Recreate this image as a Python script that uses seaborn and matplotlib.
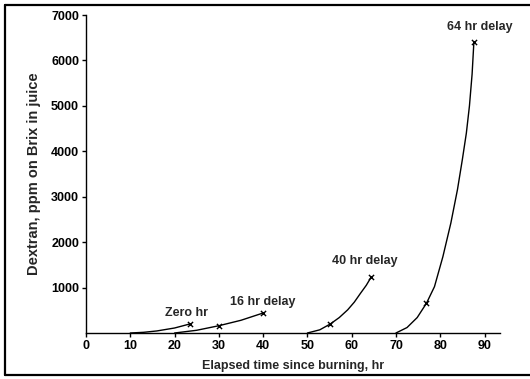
import matplotlib
matplotlib.use("Agg")
import matplotlib.pyplot as plt
import seaborn as sns
import pandas as pd
from matplotlib.lines import Line2D

# Curves
zero_x = [10, 13, 16, 20, 23.5]
zero_y = [0, 15, 45, 110, 200]
d16_x = [20, 25, 30, 35, 40]
d16_y = [0, 60, 160, 280, 440]
d40_x = [50, 52.8, 55.2, 57.2, 59.1, 60.6, 62, 63.3, 64.4]
d40_y = [0, 70, 200, 340, 510, 680, 875, 1050, 1230]
d64_x = [70, 72.5, 74.8, 76.9, 78.7, 80.6, 82.4, 83.9, 85.0, 85.9, 86.6, 87.2, 87.6]
d64_y = [0, 120, 340, 656, 1020, 1680, 2420, 3160, 3820, 4400, 5000, 5700, 6400]

# Measured points (x markers)
mark_x = [23.5, 30, 40, 55.2, 64.4, 76.9, 87.6]
mark_y = [200, 160, 440, 200, 1230, 656, 6400]

labels = ["Zero hr", "16 hr delay", "40 hr delay", "64 hr delay"]
label_x = [22.8, 40, 63, 88.9]
label_y = [450, 690, 1575, 6725]

x_ticks = [0, 10, 20, 30, 40, 50, 60, 70, 80, 90]
y_ticks = [1000, 2000, 3000, 4000, 5000, 6000, 7000]

sns.set_theme(style="ticks")
plt.rcParams['font.family'] = ['Liberation Sans', 'DejaVu Sans']
plt.rcParams['font.weight'] = 'bold'

frames = []
for name, xs, ys in [(labels[0], zero_x, zero_y), (labels[1], d16_x, d16_y),
                     (labels[2], d40_x, d40_y), (labels[3], d64_x, d64_y)]:
    frames.append(pd.DataFrame({"x": xs, "y": ys, "curve": name}))
df = pd.concat(frames, ignore_index=True)

fig = plt.figure(figsize=(5.30, 3.79), dpi=100)
ax = fig.add_axes([86/530, 1 - 333/379, (500 - 86)/530, (333 - 15)/379])

sns.lineplot(data=df, x="x", y="y", units="curve", estimator=None, sort=False,
             color="black", linewidth=1.0, ax=ax)
sns.scatterplot(x=mark_x, y=mark_y, marker="x", color="black", s=14,
                linewidth=1.0, ax=ax, zorder=3)

for t, lx, ly in zip(labels, label_x, label_y):
    ax.text(lx, ly, t, ha="center", va="center", fontsize=9, fontweight="bold")

ax.set_xlim(0, 93.5)
ax.set_ylim(0, 7000)
ax.set_xticks(x_ticks)
ax.set_yticks(y_ticks)
ax.tick_params(axis="both", direction="out", length=3, width=1, labelsize=9,
               colors="black", pad=2)
for lab in ax.get_xticklabels() + ax.get_yticklabels():
    lab.set_fontweight("bold")
sns.despine(ax=ax)
for s in ["left", "bottom"]:
    ax.spines[s].set_linewidth(1.0)
    ax.spines[s].set_color("black")

ax.set_xlabel("Elapsed time since burning, hr", fontsize=9, fontweight="bold", labelpad=6)
ax.set_ylabel("Dextran, ppm on Brix in juice", fontsize=10.5, fontweight="bold", labelpad=7)

# outer frame (left, top, bottom)
W, H = 530, 379
fig.add_artist(Line2D([5/W, 5/W], [1 - 5/H, 1 - 375/H], color="black", lw=1.6, transform=fig.transFigure))
fig.add_artist(Line2D([5/W, 1.0], [1 - 5/H, 1 - 5/H], color="black", lw=1.6, transform=fig.transFigure))
fig.add_artist(Line2D([5/W, 1.0], [1 - 375/H, 1 - 375/H], color="black", lw=1.6, transform=fig.transFigure))

fig.savefig("out.png", dpi=100)
